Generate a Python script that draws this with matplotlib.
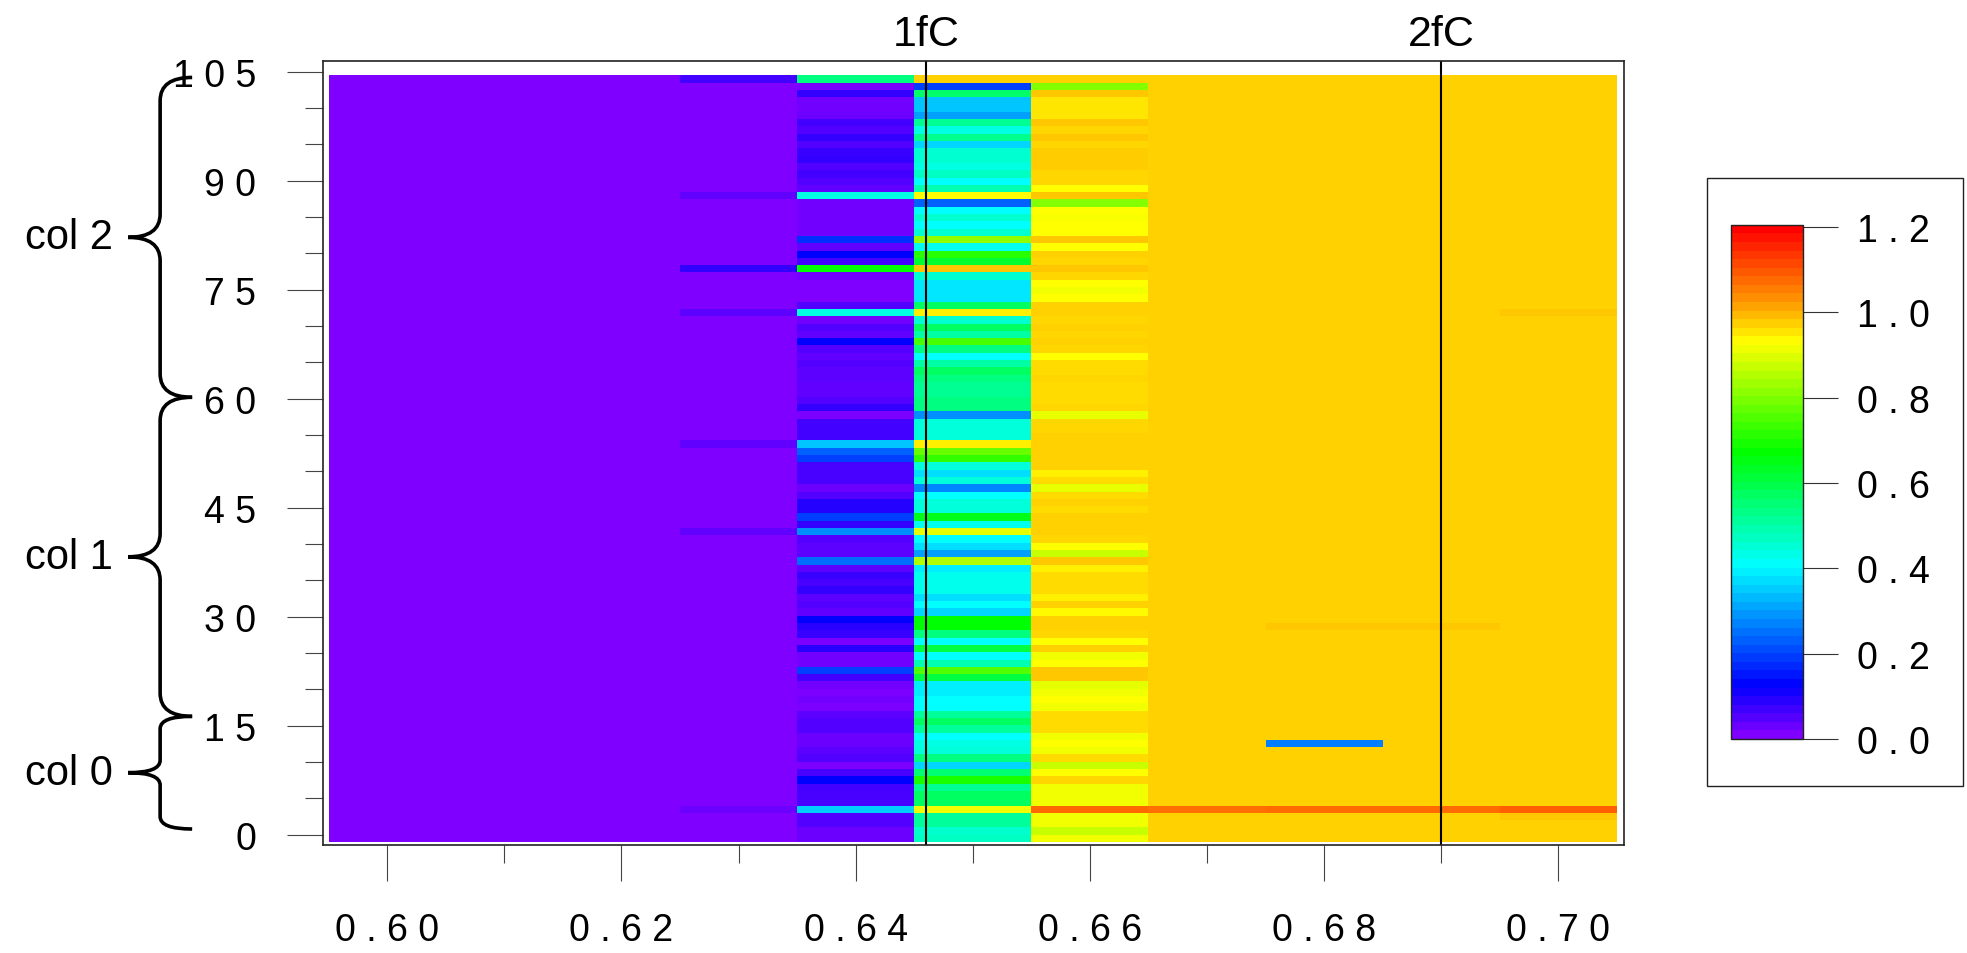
import numpy as np
import matplotlib
matplotlib.use("Agg")
import matplotlib.pyplot as plt
from matplotlib.colors import LinearSegmentedColormap, Normalize
from matplotlib.cm import ScalarMappable
from matplotlib.path import Path
from matplotlib.patches import PathPatch, Rectangle
from matplotlib.transforms import blended_transform_factory

plt.rcParams['font.family'] = ['Liberation Sans Narrow', 'Liberation Sans', 'DejaVu Sans']

# columnas (umbral) y canales
umbrales = [0.60, 0.61, 0.62, 0.63, 0.64, 0.65, 0.66, 0.67, 0.68, 0.69, 0.70]
n_canales = 105

# valores por columna, de arriba (canal 104) hacia abajo (canal 0)
col_064 = [0.539, 0.008, 0.074, 0.015, 0.015, 0.02, 0.059, 0.044, 0.074, 0.044,
           0.07, 0.074, 0.044, 0.059, 0.044, 0.03, 0.437, 0.015, 0.015, 0.015,
           0.015, 0.015, 0.172, 0.03, 0.118, 0.059, 0.673, 0.015, 0.0, 0.0,
           0.0, 0.044, 0.437, 0.015, 0.044, 0.03, 0.118, 0.044, 0.03, 0.044,
           0.037, 0.037, 0.03, 0.03, 0.044, 0.074, 0.008, 0.059, 0.059, 0.059,
           0.343, 0.226, 0.19, 0.052, 0.052, 0.052, 0.022, 0.044, 0.088, 0.088,
           0.19, 0.074, 0.28, 0.044, 0.037, 0.037, 0.244, 0.037, 0.066, 0.052,
           0.074, 0.037, 0.044, 0.03, 0.118, 0.081, 0.07, 0.008, 0.081, 0.015,
           0.015, 0.19, 0.059, 0.015, 0.008, 0.015, 0.008, 0.037, 0.044, 0.044,
           0.022, 0.022, 0.037, 0.044, 0.008, 0.052, 0.118, 0.059, 0.052, 0.052,
           0.352, 0.044, 0.044, 0.022, 0.022]
col_065 = [0.979, 0.19, 0.562, 0.343, 0.343, 0.298, 0.519, 0.437, 0.527, 0.361,
           0.452, 0.452, 0.437, 0.468, 0.405, 0.485, 0.936, 0.226, 0.405, 0.452,
           0.405, 0.452, 0.821, 0.421, 0.714, 0.622, 0.987, 0.452, 0.379, 0.379,
           0.379, 0.572, 0.95, 0.452, 0.572, 0.502, 0.747, 0.539, 0.405, 0.502,
           0.572, 0.539, 0.519, 0.519, 0.539, 0.539, 0.28, 0.444, 0.444, 0.444,
           0.95, 0.78, 0.722, 0.444, 0.37, 0.444, 0.271, 0.405, 0.444, 0.444,
           0.648, 0.428, 0.912, 0.405, 0.37, 0.298, 0.854, 0.388, 0.428, 0.428,
           0.428, 0.37, 0.405, 0.361, 0.673, 0.673, 0.539, 0.405, 0.606, 0.405,
           0.485, 0.755, 0.606, 0.388, 0.388, 0.405, 0.405, 0.51, 0.572, 0.51,
           0.405, 0.437, 0.444, 0.539, 0.361, 0.555, 0.698, 0.519, 0.572, 0.572,
           0.92, 0.51, 0.51, 0.46, 0.468]
col_066 = [0.979, 0.805, 0.987, 0.96, 0.96, 0.96, 0.987, 0.972, 0.987, 0.972,
           0.983, 0.983, 0.983, 0.972, 0.972, 0.936, 0.987, 0.805, 0.936, 0.928,
           0.936, 0.936, 0.987, 0.936, 0.979, 0.972, 0.987, 0.972, 0.936, 0.92,
           0.936, 0.979, 0.979, 0.972, 0.979, 0.972, 0.979, 0.972, 0.936, 0.965,
           0.965, 0.972, 0.965, 0.965, 0.965, 0.972, 0.912, 0.972, 0.972, 0.979,
           0.979, 0.979, 0.979, 0.979, 0.95, 0.965, 0.912, 0.965, 0.979, 0.965,
           0.979, 0.979, 0.979, 0.972, 0.936, 0.879, 0.987, 0.95, 0.965, 0.965,
           0.965, 0.95, 0.979, 0.94, 0.979, 0.979, 0.972, 0.936, 0.979, 0.92,
           0.936, 0.987, 0.987, 0.904, 0.92, 0.936, 0.92, 0.965, 0.965, 0.965,
           0.92, 0.936, 0.92, 0.965, 0.879, 0.936, 0.972, 0.92, 0.92, 0.92,
           1.086, 0.92, 0.92, 0.879, 0.92]

# nivel de fondo de las columnas bajas y altas
nivel_bajo = 0.0
nivel_alto = 0.979

# excepciones: (fila desde arriba, umbral, valor)
excepciones = [(0, 0.63, 0.059), (16, 0.63, 0.03), (26, 0.63, 0.074), (32, 0.63, 0.037),
               (50, 0.63, 0.03), (62, 0.63, 0.03), (100, 0.63, 0.022),
               (100, 0.67, 1.077), (100, 0.68, 1.081), (100, 0.69, 1.081), (100, 0.70, 1.095),
               (101, 0.70, 0.988), (91, 0.68, 0.262), (75, 0.68, 0.988), (75, 0.69, 0.988),
               (32, 0.70, 0.986)]

# lineas de carga
lineas = [(0.646, '1fC'), (0.690, '2fC')]

# grupos de canales (llaves)
grupos = [('col 0', 0.8, 16.3), ('col 1', 16.3, 60.2), ('col 2', 60.2, 104.2)]

# --- matriz ---
Z = np.zeros((n_canales, len(umbrales)))
for j, u in enumerate(umbrales):
    Z[:, j] = nivel_bajo if u < 0.635 else nivel_alto
Z[:, umbrales.index(0.64)] = col_064
Z[:, umbrales.index(0.65)] = col_065
Z[:, umbrales.index(0.66)] = col_066
for fila, u, v in excepciones:
    Z[fila, umbrales.index(u)] = v
Z = Z[::-1]

paso = 0.01
x_bordes = np.append(np.array(umbrales) - paso / 2, umbrales[-1] + paso / 2)
y_bordes = np.linspace(-1.0, 104.5, n_canales + 1)

# paleta tipo arcoiris
vmax = 1.205
paradas = [(0.0, '#8000FF'), (0.118, '#0000FF'), (0.405, '#00FFFF'), (0.673, '#00FF00'),
           (0.936, '#FFFF00'), (1.03, '#FF9900'), (1.205, '#FF0000')]
lista = [(p / vmax, c) for p, c in paradas]
cmap = LinearSegmentedColormap.from_list('arcoiris', lista, N=256)
cmap_barra = LinearSegmentedColormap.from_list('arcoiris_b', lista, N=60)
norm = Normalize(0, vmax)

fig = plt.figure(figsize=(19.67, 9.54), dpi=100)
ax = fig.add_axes([0.1641, 0.1132, 0.6615, 0.8221])

malla = ax.pcolormesh(x_bordes, y_bordes, Z, cmap=cmap, norm=norm,
                      shading='flat', antialiased=False, edgecolors='none')
ax.set_xlim(0.5945, 0.7056)
ax.set_ylim(-1.4, 106.5)

for s in ax.spines.values():
    s.set_linewidth(1.2)
    s.set_color('#222222')

xt = [0.60, 0.62, 0.64, 0.66, 0.68, 0.70]
ax.set_xticks(xt)
ax.set_xticklabels([' '.join(f'{v:.2f}') for v in xt])
ax.set_xticks([0.61, 0.63, 0.65, 0.67, 0.69], minor=True)
yt = list(range(0, 106, 15))
ax.set_yticks(yt)
ax.set_yticklabels([' '.join(str(v)) for v in yt])
ax.set_yticks([v for v in range(5, 105, 5) if v % 15], minor=True)
ax.tick_params(which='major', length=26, width=0.8, color='#444444', labelsize=27, pad=22)
ax.tick_params(which='minor', length=13, width=0.8, color='#444444')

tr = blended_transform_factory(ax.transData, ax.transAxes)
for xv, txt in lineas:
    ax.axvline(xv, color='black', lw=1.5)
    ax.text(xv, 1.02, txt, transform=tr, ha='center', va='baseline', fontsize=31,
            family=['Liberation Sans', 'DejaVu Sans'])

# llaves
tb = blended_transform_factory(ax.transAxes, ax.transData)
x_fin, x_tallo, x_punta = -0.1004, -0.125, -0.1496
for nombre, y0, y1 in grupos:
    r = min(3.2, 0.11 * (y1 - y0))
    ym = (y0 + y1) / 2
    verts = [(x_fin, y0), (x_tallo, y0), (x_tallo, y0 + r),
             (x_tallo, ym - r), (x_tallo, ym), (x_punta, ym),
             (x_tallo, ym), (x_tallo, ym + r),
             (x_tallo, y1 - r), (x_tallo, y1), (x_fin, y1)]
    codes = [Path.MOVETO, Path.CURVE3, Path.CURVE3,
             Path.LINETO, Path.CURVE3, Path.CURVE3,
             Path.CURVE3, Path.CURVE3,
             Path.LINETO, Path.CURVE3, Path.CURVE3]
    ax.add_patch(PathPatch(Path(verts, codes), transform=tb, fill=False,
                           lw=2.6, color='black', clip_on=False, capstyle='butt'))
    ax.text(-0.1611, ym, nombre, transform=tb, ha='right', va='center', fontsize=30,
            family=['Liberation Sans', 'DejaVu Sans'])

# barra de color
cax = fig.add_axes([0.880, 0.2243, 0.0366, 0.539])
cb = fig.colorbar(ScalarMappable(norm=norm, cmap=cmap_barra), cax=cax,
                  ticks=[0.0, 0.2, 0.4, 0.6, 0.8, 1.0, 1.2])
cb.ax.set_yticklabels([' '.join(f'{v:.1f}') for v in [0.0, 0.2, 0.4, 0.6, 0.8, 1.0, 1.2]])
cb.outline.set_linewidth(1.0)
cb.outline.set_edgecolor('#222222')
cb.ax.tick_params(length=25, width=0.8, color='#333333', labelsize=27, pad=14)
fig.add_artist(Rectangle((0.8678, 0.175), 0.1302, 0.6374, transform=fig.transFigure,
                         fill=False, edgecolor='#222222', lw=1.0))

fig.savefig('out.png', dpi=100)
